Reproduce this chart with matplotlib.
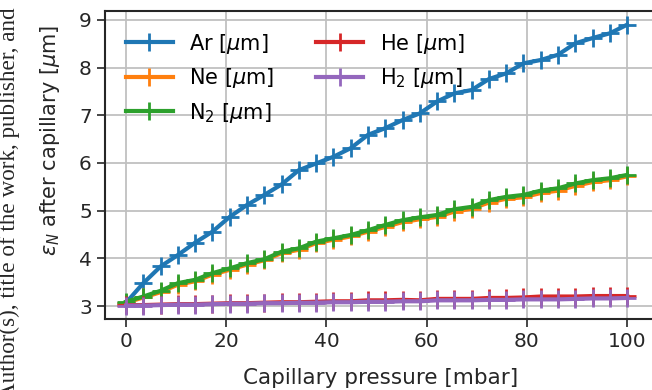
import matplotlib
matplotlib.use("Agg")
import matplotlib.pyplot as plt
import numpy as np

# capillary pressure [mbar], 30 steps 0..100
pressure = np.linspace(0, 100, 30)

emit_ar = [3.07, 3.48, 3.83, 4.07, 4.33, 4.56, 4.87, 5.12, 5.33, 5.55,
           5.85, 5.99, 6.13, 6.31, 6.59, 6.73, 6.90, 7.04, 7.29, 7.46,
           7.53, 7.76, 7.88, 8.09, 8.16, 8.27, 8.51, 8.62, 8.72, 8.90]
emit_ne = [3.07, 3.18, 3.29, 3.45, 3.52, 3.66, 3.76, 3.87, 3.96, 4.11,
           4.18, 4.32, 4.39, 4.46, 4.56, 4.66, 4.76, 4.82, 4.87, 4.98,
           5.04, 5.17, 5.25, 5.28, 5.37, 5.42, 5.52, 5.60, 5.64, 5.72]
emit_n2 = [3.09, 3.20, 3.32, 3.48, 3.55, 3.69, 3.79, 3.90, 3.98, 4.14,
           4.21, 4.35, 4.42, 4.49, 4.59, 4.70, 4.80, 4.86, 4.91, 5.03,
           5.08, 5.22, 5.29, 5.33, 5.42, 5.47, 5.57, 5.64, 5.68, 5.75]
emit_he = [3.02, 3.02, 3.03, 3.04, 3.04, 3.05, 3.06, 3.06, 3.07, 3.08,
           3.08, 3.09, 3.10, 3.10, 3.12, 3.12, 3.13, 3.12, 3.15, 3.15,
           3.15, 3.17, 3.17, 3.18, 3.20, 3.20, 3.20, 3.21, 3.21, 3.21]
emit_h2 = [3.01, 3.01, 3.02, 3.03, 3.03, 3.04, 3.05, 3.05, 3.06, 3.06,
           3.07, 3.07, 3.08, 3.08, 3.09, 3.09, 3.10, 3.10, 3.12, 3.12,
           3.12, 3.13, 3.13, 3.14, 3.14, 3.14, 3.15, 3.16, 3.16, 3.17]

series = [("Ar", emit_ar), ("Ne", emit_ne), ("N$_2$", emit_n2),
          ("He", emit_he), ("H$_2$", emit_h2)]
colors = ['#1f77b4', '#ff7f0e', '#2ca02c', '#d62728', '#9467bd']

fig = plt.figure(figsize=(6.52, 3.9), dpi=100)
ax = fig.add_axes([0.161, 0.182, 0.847, 0.790])

for (name, vals), c in zip(series, colors):
    ax.plot(pressure, vals, color=c, lw=3, marker='+', ms=12.5, mew=2,
            label=name + r" [$\mu$m]")

ax.set_xlim(-4.2, 106)
ax.set_ylim(2.728, 9.189)
ax.set_xticks([0, 20, 40, 60, 80, 100])
ax.set_yticks([3, 4, 5, 6, 7, 8, 9])
ax.grid(True, color='#c0c0c0', lw=1.3)
ax.set_axisbelow(True)
ax.tick_params(direction='out', length=6, width=1.2, labelsize=14.5,
               colors='#262626')
for s in ax.spines.values():
    s.set_linewidth(1.5)
    s.set_color('#262626')

ax.set_xlabel("Capillary pressure [mbar]", fontsize=15.5, color='#262626',
              labelpad=12)

fig.text(0.077, 0.641, r"$\varepsilon_N$ after capillary [$\mu$m]",
         rotation=90, ha='center', va='center', fontsize=15, color='#262626')
# first line of the label is cut off at the left/bottom edge, as in the source
fig.text(0.014, 0.982, "Author(s), title of the work, publisher, and",
         rotation=90, ha='center', va='top', fontsize=16.7,
         family='Liberation Serif', color='#262626')

ax.legend(loc='upper left', ncol=2, frameon=False, fontsize=15,
          handlelength=2.25, labelspacing=0.5, columnspacing=2.0,
          borderaxespad=0.6, handletextpad=0.8)

fig.savefig("out.png", dpi=100)
